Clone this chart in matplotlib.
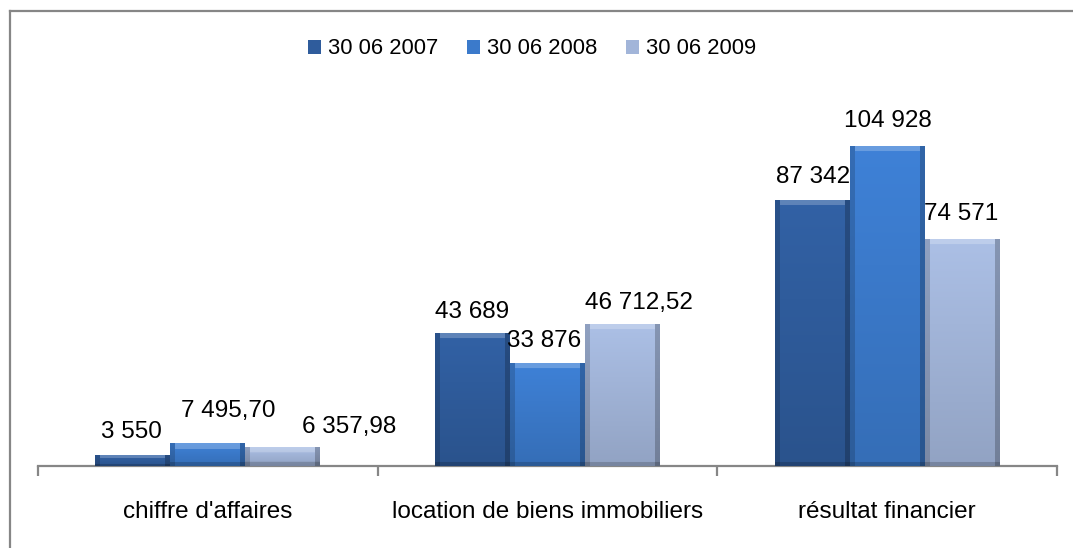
import numpy as np
import matplotlib
matplotlib.use("Agg")
import matplotlib.pyplot as plt
from matplotlib.lines import Line2D

# ---------------- data ----------------
categories = ["chiffre d'affaires", "location de biens immobiliers", "résultat financier"]
series_names = ["30 06 2007", "30 06 2008", "30 06 2009"]
values_2007 = [3550, 43689, 87342]
values_2008 = [7495.70, 33876, 104928]
values_2009 = [6357.98, 46712.52, 74571]
decimals_2007 = [0, 0, 0]
decimals_2008 = [2, 0, 0]
decimals_2009 = [2, 2, 0]

# ---------------- style ----------------
colors = ["#2F5C9C", "#3B7ACB", "#A2B5D9"]
label_dx_px = [[-1, -1, 1], [20, -3, 1], [66, 17, -1]]   # per series, per category
label_dy_px = [[17, 15, 17], [26, 16, 19], [14, 15, 19]]

plt.rcParams['font.family'] = ['Liberation Sans', 'DejaVu Sans']

W, H = 1073, 548
fig = plt.figure(figsize=(W / 100, H / 100), dpi=100)
fig.patch.set_facecolor("white")

ax = fig.add_axes([38 / W, 82 / H, 1019 / W, 366 / H])
ax.set_xlim(0, 3)
ax.set_ylim(0, 120000)

def fmt(v, d):
    s = f"{v:,.{d}f}"
    s = s.replace(",", " ").replace(".", ",")
    return s

centers = np.arange(len(categories)) + 0.5
bw = 75 / 340
series = [values_2007, values_2008, values_2009]
decs = [decimals_2007, decimals_2008, decimals_2009]

def to_rgb(c):
    return np.array(matplotlib.colors.to_rgb(c))

bar_groups = []
for i, (vals, col) in enumerate(zip(series, colors)):
    bars = ax.bar(centers + (i - 1) * bw, vals, width=bw, color=col,
                  edgecolor="none", label=series_names[i], zorder=2)
    bar_groups.append(bars)
    base = to_rgb(col)
    for b in bars:
        x0, w, h = b.get_x(), b.get_width(), b.get_height()
        p0 = ax.transData.transform((x0, 0))
        p1 = ax.transData.transform((x0 + w, h))
        wpx = max(int(round(p1[0] - p0[0])), 2)
        hpx = max(int(round(p1[1] - p0[1])), 2)
        yy = np.linspace(0, 1, hpx)[:, None]  # 0 top, 1 bottom
        shade = np.ones((hpx, wpx))
        shade *= (1.06 - 0.16 * yy)
        img = base[None, None, :] * shade[:, :, None]
        bev = min(5, wpx // 4)
        img[:, :bev] *= 0.84
        img[:, -bev:] *= 0.78
        tb = min(6, max(hpx // 3, 1))
        img[:tb, bev:-bev] = img[:tb, bev:-bev] * 0.78 + 0.22
        bb = min(4, max(hpx // 4, 1))
        img[-bb:] *= 0.82
        img = np.clip(img, 0, 1)
        im = ax.imshow(img, extent=[x0, x0 + w, 0, h], aspect="auto",
                       interpolation="bilinear", zorder=3)
        im.set_clip_path(b)
    for j, b in enumerate(bars):
        ax.annotate(fmt(vals[j], decs[i][j]),
                    xy=(b.get_x() + b.get_width() / 2, b.get_height()),
                    xytext=(label_dx_px[i][j] * 0.72, label_dy_px[i][j] * 0.72),
                    textcoords="offset points", ha="center", va="baseline",
                    fontsize=17.5, color="black", zorder=5)

ax.set_xlim(0, 3)
ax.set_ylim(0, 120000)

for s in ["top", "right", "left"]:
    ax.spines[s].set_visible(False)
ax.spines["bottom"].set_color("#868686")
ax.spines["bottom"].set_linewidth(1.6)
ax.set_yticks([])
ax.set_xticks([0, 1, 2, 3])
ax.set_xticklabels([])
ax.tick_params(axis="x", which="major", direction="out", length=7,
               width=1.6, color="#868686")
ax.set_xticks(centers, minor=True)
ax.set_xticklabels(categories, minor=True, fontsize=17.5)
ax.tick_params(axis="x", which="minor", length=0, pad=25)
ax.set_facecolor("none")

# legend
leg = fig.legend(handles=[g for g in bar_groups], labels=series_names,
                 loc="center", bbox_to_anchor=(532 / W, 1 - 49 / H),
                 ncol=3, frameon=False, fontsize=15.8,
                 handlelength=0.62, handleheight=0.62, handletextpad=0.3,
                 columnspacing=1.3, borderpad=0, borderaxespad=0)

# outer frame (left and top visible)
fig.add_artist(Line2D([9.5 / W, 9.5 / W], [0, 1 - 10.5 / H], transform=fig.transFigure,
                      color="#868686", lw=1.6))
fig.add_artist(Line2D([9.5 / W, 1], [1 - 10.5 / H, 1 - 10.5 / H], transform=fig.transFigure,
                      color="#868686", lw=1.6))

fig.savefig("out.png", dpi=100)
